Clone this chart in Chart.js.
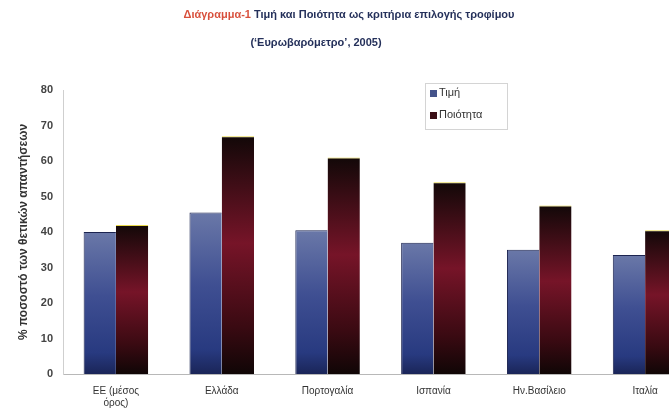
<!DOCTYPE html>
<html>
<head>
<meta charset="utf-8">
<script src="https://cdn.jsdelivr.net/npm/chart.js@4"></script>
<style>
  html, body { margin: 0; padding: 0; background: #fff; overflow: hidden; }
  #wrap { width: 702px; height: 417px; }
</style>
</head>
<body>
<div id="wrap"><canvas id="priceQualityChart"></canvas></div>
<script>
// Eurobarometer 2005: price vs quality as food choice criteria
const countries = [['ΕΕ (μέσος', 'όρος)'], 'Ελλάδα', 'Πορτογαλία', 'Ισπανία', 'Ην.Βασίλειο', 'Ιταλία'];
const price = [40, 45.5, 40.5, 37, 35, 33.5];
const quality = [42, 67, 61, 54, 47.5, 40.5];
const seriesNames = ['Τιμή', 'Ποιότητα'];
const yTicks = [0, 10, 20, 30, 40, 50, 60, 70, 80];

function barGradient(ctx, stops) {
    let chart = ctx.chart;
    let area = chart.chartArea;
    if (!area || ctx.raw === undefined) return stops[1][1];
    let top = chart.scales.y.getPixelForValue(ctx.raw);
    let g = chart.ctx.createLinearGradient(0, top, 0, area.bottom);
    stops.forEach(s => g.addColorStop(s[0], s[1]));
    return g;
}

const blueStops = [[0, '#6a78a8'], [0.45, '#3f4f92'], [0.85, '#283a80'], [1, '#1a2558']];
const redStops = [[0, '#120808'], [0.45, '#761428'], [0.8, '#3a0a12'], [1, '#100606']];

// title in two colours, drawn above the plot
const titlePlugin = {
    id: 'twoColourTitle',
    afterDraw(chart) {
        let c = chart.ctx;
        c.save();
        c.font = 'bold 11px "Liberation Sans", Arial, sans-serif';
        c.textBaseline = 'middle';
        let head = 'Διάγραμμα-1';
        let rest = ' Τιμή και Ποιότητα ως κριτήρια επιλογής τροφίμου';
        let w1 = c.measureText(head).width;
        let w2 = c.measureText(rest).width;
        let x = 349 - (w1 + w2) / 2;
        c.fillStyle = '#d8503c';
        c.fillText(head, x, 15);
        c.fillStyle = '#24305a';
        c.fillText(rest, x + w1, 15);
        c.textAlign = 'center';
        c.fillText('(\u2018Ευρωβαρόμετρο\u2019, 2005)', 316, 43);
        c.restore();
    }
};

// boxed legend sitting inside the plot
const boxLegend = {
    id: 'boxLegend',
    afterDraw(chart) {
        let c = chart.ctx;
        c.save();
        c.strokeStyle = '#d4d4d4';
        c.lineWidth = 1;
        c.strokeRect(425.5, 83.5, 82, 46);
        c.font = '11px "Liberation Sans", Arial, sans-serif';
        c.textBaseline = 'middle';
        let sw = ['#44538a', '#3a0e16'];
        chart.data.datasets.forEach((ds, i) => {
            let y = 93 + i * 22;
            c.fillStyle = sw[i];
            c.fillRect(430, y - 3, 7, 7);
            c.fillStyle = '#333';
            c.fillText(ds.label, 439, y);
        });
        c.restore();
    }
};

function manageFoodChart() {
    let ctx = document.getElementById('priceQualityChart').getContext('2d');
    new Chart(ctx, {
        type: 'bar',
        data: {
            labels: countries,
            datasets: [{
                label: seriesNames[0],
                data: price,
                backgroundColor: c => barGradient(c, blueStops),
                borderColor: '#1c2450',
                borderWidth: { top: 1, left: 1, right: 0, bottom: 0 },
                borderSkipped: false
            }, {
                label: seriesNames[1],
                data: quality,
                backgroundColor: c => barGradient(c, redStops),
                borderColor: '#e8d84a',
                borderWidth: { top: 1, left: 0, right: 0, bottom: 0 },
                borderSkipped: false
            }]
        },
        options: {
            responsive: true,
            maintainAspectRatio: false,
            animation: false,
            layout: { padding: { left: 14, top: 90, right: 4, bottom: 0 } },
            plugins: {
                legend: { display: false },
                tooltip: { enabled: false }
            },
            datasets: {
                bar: { categoryPercentage: 0.61, barPercentage: 1.0 }
            },
            scales: {
                x: {
                    grid: { display: false, drawTicks: false },
                    border: { color: '#b8b8b8' },
                    ticks: {
                        padding: 11,
                        color: '#333',
                        font: { family: '"Liberation Sans", Arial, sans-serif', size: 10 },
                        maxRotation: 0,
                        autoSkip: false
                    },
                    afterFit: s => { s.height = 43; }
                },
                y: {
                    min: 0,
                    max: 80,
                    afterBuildTicks: s => { s.ticks = yTicks.map(v => ({ value: v })); },
                    grid: { display: false, drawTicks: false },
                    border: { color: '#cfcfcf' },
                    ticks: {
                        padding: 10,
                        color: '#444',
                        font: { family: '"Liberation Sans", Arial, sans-serif', size: 11, weight: 'bold' }
                    },
                    title: {
                        display: true,
                        text: '% ποσοστό των θετικών απαντήσεων',
                        color: '#333',
                        padding: { top: 2, bottom: 0 },
                        font: { family: '"Liberation Sans", Arial, sans-serif', size: 12, weight: 'bold' }
                    },
                    afterFit: s => { s.width = 49; }
                }
            }
        },
        plugins: [titlePlugin, boxLegend]
    });
}

manageFoodChart();
</script>
</body>
</html>
